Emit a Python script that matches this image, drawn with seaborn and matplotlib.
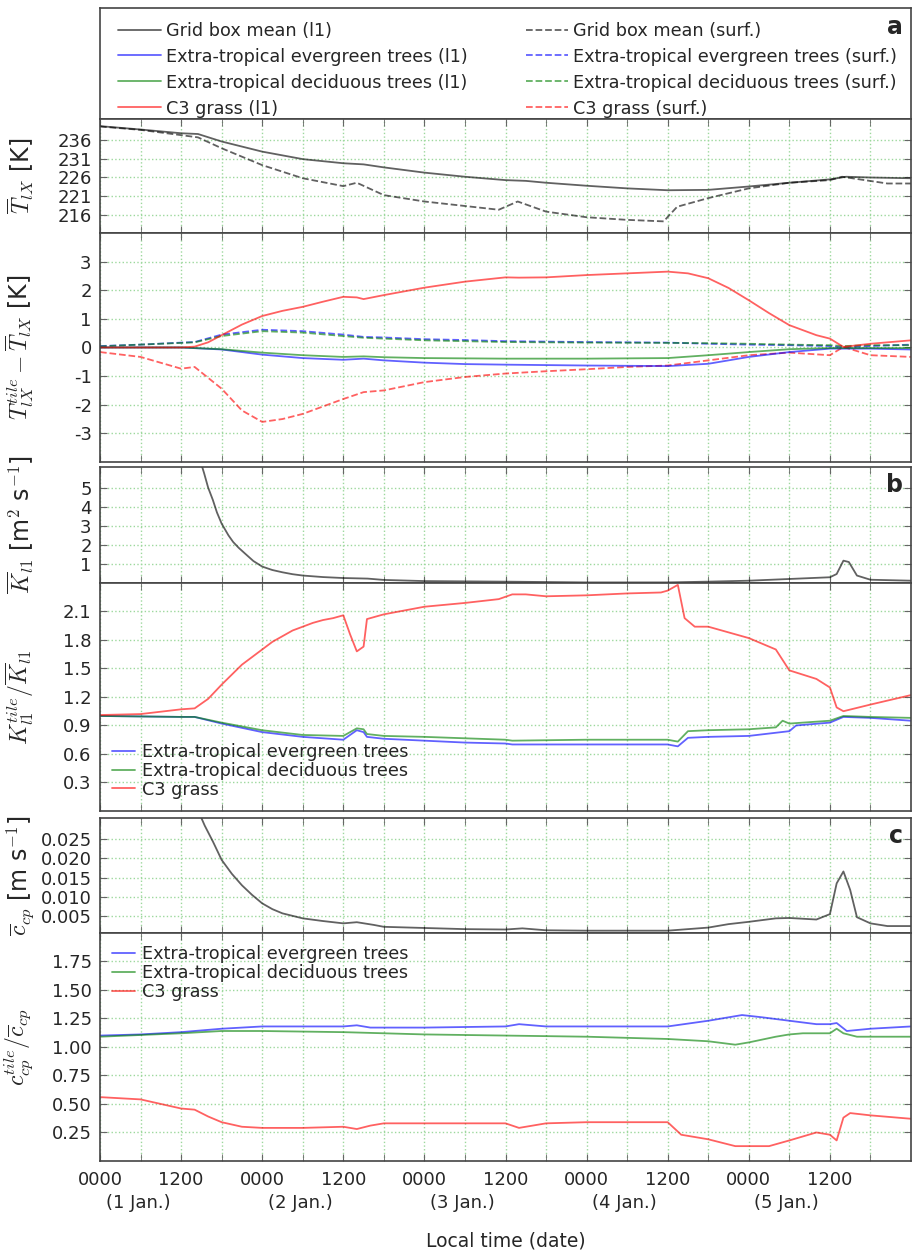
# Tile temperature / exchange coefficient diagnostics, 1-5 Jan.
import matplotlib
matplotlib.use('Agg')
import matplotlib.pyplot as plt
import matplotlib.transforms as mtransforms
from matplotlib.lines import Line2D
from matplotlib.ticker import FormatStrFormatter
import seaborn as sns

# ---- panel a: grid box mean temperature [K]
tbar_l1_h = [0, 6, 12, 14.5, 18, 24, 30, 36, 39, 42, 48, 54, 60, 63, 66, 72, 78, 84, 90, 96, 102, 108, 110.4, 114, 120]
tbar_l1 = [239.7, 238.8, 237.8, 237.6, 235.6, 232.9, 230.9, 229.8, 229.5, 228.7, 227.3, 226.2, 225.3, 225.1, 224.6,
           223.8, 223.1, 222.6, 222.7, 223.6, 224.6, 225.5, 226.2, 226.0, 225.8]
tbar_sf_h = [0, 6, 12, 14.5, 18, 24, 30, 36, 38, 42, 48, 54, 59, 61.8, 66, 72, 78, 83.4, 85.4, 90, 96, 102, 108, 109.8,
             116.5, 120]
tbar_sf = [239.6, 238.7, 237.3, 236.7, 233.8, 229.3, 225.8, 223.7, 224.6, 221.3, 219.6, 218.4, 217.4, 219.6, 216.9,
           215.4, 214.7, 214.3, 218.2, 220.5, 223.1, 224.6, 225.3, 226.2, 224.4, 224.4]

# ---- panel a: tile minus grid box mean [K]
dt_c3_l1_h = [0, 12, 14, 16, 18, 21, 24, 27, 30, 33, 36, 38, 39, 42, 48, 54, 60, 62, 66, 72, 78, 84, 87, 90, 93, 96,
              99, 102, 106, 108, 110, 114, 120]
dt_c3_l1 = [0, 0, 0.03, 0.18, 0.43, 0.8, 1.1, 1.28, 1.42, 1.6, 1.77, 1.75, 1.69, 1.83, 2.09, 2.3, 2.45, 2.44, 2.45,
            2.53, 2.59, 2.65, 2.59, 2.42, 2.08, 1.65, 1.2, 0.78, 0.43, 0.31, 0.02, 0.13, 0.25]
dt_c3_sf_h = [0, 6, 12, 14, 18, 21, 24, 27, 30, 36, 39, 42, 48, 54, 60, 66, 72, 78, 84, 90, 96, 102, 108, 110, 114, 120]
dt_c3_sf = [-0.16, -0.33, -0.74, -0.68, -1.44, -2.2, -2.6, -2.5, -2.32, -1.8, -1.56, -1.5, -1.21, -1.03, -0.91,
            -0.83, -0.76, -0.68, -0.63, -0.45, -0.27, -0.18, -0.27, 0.02, -0.27, -0.33]
dt_tree_l1_h = [0, 12, 18, 24, 30, 36, 39, 42, 48, 54, 60, 72, 84, 90, 96, 102, 108, 114, 120]
dt_ever_l1 = [0, 0, -0.07, -0.25, -0.37, -0.43, -0.39, -0.45, -0.53, -0.58, -0.6, -0.63, -0.65, -0.57, -0.33, -0.16,
              -0.04, -0.04, -0.07]
dt_deci_l1 = [0, 0, -0.06, -0.18, -0.27, -0.33, -0.31, -0.34, -0.37, -0.38, -0.39, -0.39, -0.37, -0.27, -0.16, -0.06,
              -0.02, -0.02, -0.02]
dt_tree_sf_h = [0, 6, 12, 14, 18, 24, 30, 36, 39, 42, 48, 54, 60, 72, 84, 90, 96, 102, 108, 110, 114, 120]
dt_ever_sf = [0.05, 0.1, 0.17, 0.19, 0.45, 0.62, 0.57, 0.45, 0.37, 0.35, 0.29, 0.26, 0.22, 0.19, 0.17, 0.13, 0.1,
              0.08, 0.05, 0.0, 0.05, 0.1]
dt_deci_sf = [0.04, 0.1, 0.16, 0.18, 0.4, 0.57, 0.52, 0.4, 0.34, 0.31, 0.25, 0.22, 0.19, 0.17, 0.16, 0.15, 0.13,
              0.1, 0.08, 0.05, 0.08, 0.08]

# ---- panel b: exchange coefficient
kbar_h = [14.5, 15.4, 16, 16.7, 17.3, 18, 19, 19.7, 20.5, 21.5, 22.7, 24, 25.5, 27, 28.5, 30, 33, 36, 39.6, 42, 48,
          60, 72, 84, 90, 96, 102, 108, 109, 110, 110.8, 112, 114, 120]
kbar = [6.8, 5.76, 5.0, 4.35, 3.7, 3.11, 2.5, 2.15, 1.85, 1.53, 1.15, 0.86, 0.68, 0.56, 0.46, 0.39, 0.31, 0.26, 0.23,
        0.16, 0.1, 0.07, 0.03, 0.03, 0.07, 0.12, 0.21, 0.3, 0.47, 1.17, 1.1, 0.39, 0.17, 0.12]
kr_c3_h = [0, 6, 12, 14, 16, 18, 21, 22.5, 24, 25.5, 27, 28.5, 30, 31.5, 33, 34.5, 36, 37, 38, 39, 39.5, 42, 48, 54,
           59, 61, 63, 66, 72, 78, 83, 84, 85.5, 86.5, 88, 90, 96, 100, 102, 106, 108, 109, 110, 114, 120]
kr_c3 = [1.01, 1.02, 1.07, 1.08, 1.18, 1.33, 1.54, 1.62, 1.70, 1.78, 1.84, 1.90, 1.94, 1.98, 2.01, 2.03, 2.06, 1.86,
         1.68, 1.73, 2.02, 2.07, 2.15, 2.19, 2.23, 2.28, 2.28, 2.26, 2.27, 2.29, 2.30, 2.32, 2.38, 2.03, 1.94, 1.94,
         1.82, 1.70, 1.48, 1.39, 1.30, 1.09, 1.05, 1.12, 1.22]
kr_ever_h = [0, 12, 14, 18, 24, 30, 36, 38, 39, 39.5, 42, 48, 54, 60, 61, 72, 84, 85.5, 87, 90, 96, 102, 103, 108,
             110, 114, 120]
kr_ever = [1.0, 0.99, 0.99, 0.92, 0.83, 0.78, 0.75, 0.85, 0.83, 0.78, 0.76, 0.74, 0.72, 0.71, 0.70, 0.70, 0.70,
           0.68, 0.77, 0.78, 0.79, 0.84, 0.90, 0.93, 0.99, 0.98, 0.95]
kr_deci_h = [0, 12, 14, 18, 24, 30, 36, 38, 39, 39.5, 42, 48, 60, 61, 72, 84, 85.5, 87, 90, 96, 100, 101, 102, 108,
             110, 114, 120]
kr_deci = [1.0, 0.99, 0.99, 0.93, 0.85, 0.80, 0.79, 0.87, 0.86, 0.81, 0.79, 0.78, 0.75, 0.74, 0.75, 0.75, 0.73,
           0.84, 0.85, 0.86, 0.88, 0.95, 0.92, 0.95, 1.0, 0.99, 0.98]

# ---- panel c: cp coefficient
cbar_h = [14.5, 15.5, 16.7, 18, 19.5, 21, 22.5, 24, 25.5, 27, 30, 33, 36, 38, 40.5, 42, 48, 54, 60, 62.5, 66, 72, 78,
          84, 90, 93, 96, 100, 102, 106, 108, 109, 110, 111, 112, 114, 116.5, 120]
cbar = [0.0325, 0.0285, 0.0244, 0.0196, 0.0160, 0.0130, 0.0105, 0.0083, 0.0068, 0.0057, 0.0044, 0.0037, 0.0031,
        0.0034, 0.0027, 0.0022, 0.0019, 0.0016, 0.0015, 0.0018, 0.0013, 0.0012, 0.0012, 0.0012, 0.0020, 0.0029,
        0.0035, 0.0044, 0.0045, 0.0041, 0.0055, 0.0135, 0.0166, 0.0118, 0.0047, 0.0031, 0.0024, 0.0024]
cr_ever_h = [0, 6, 12, 14, 18, 24, 30, 36, 38, 40, 48, 60, 62, 66, 72, 84, 90, 95, 98, 102, 106, 108, 109, 110.5,
             114, 120]
cr_ever = [1.10, 1.11, 1.13, 1.14, 1.16, 1.18, 1.18, 1.18, 1.19, 1.17, 1.17, 1.18, 1.20, 1.18, 1.18, 1.18, 1.23,
           1.28, 1.26, 1.23, 1.20, 1.20, 1.21, 1.14, 1.16, 1.18]
cr_deci_h = [0, 12, 18, 24, 36, 48, 60, 72, 84, 90, 94, 96, 100, 102, 104, 108, 109, 110, 112, 114, 120]
cr_deci = [1.09, 1.12, 1.14, 1.14, 1.13, 1.11, 1.10, 1.09, 1.07, 1.05, 1.02, 1.04, 1.09, 1.11, 1.12, 1.12, 1.16,
           1.12, 1.09, 1.09, 1.09]
cr_c3_h = [0, 6, 12, 14, 16, 18, 21, 24, 30, 36, 38, 40, 42, 48, 60, 62, 66, 72, 84, 86, 90, 94, 96, 99, 102, 106,
           108, 109, 110, 111, 114, 120]
cr_c3 = [0.56, 0.54, 0.46, 0.45, 0.39, 0.34, 0.30, 0.29, 0.29, 0.30, 0.28, 0.31, 0.33, 0.33, 0.33, 0.29, 0.33, 0.34,
         0.34, 0.23, 0.19, 0.13, 0.13, 0.13, 0.18, 0.25, 0.23, 0.18, 0.38, 0.42, 0.40, 0.37]

tile_names = ['Grid box mean', 'Extra-tropical evergreen trees', 'Extra-tropical deciduous trees', 'C3 grass']
day_labels = ['(1 Jan.)', '(2 Jan.)', '(3 Jan.)', '(4 Jan.)', '(5 Jan.)']
hour_labels = ['0000', '1200'] * 5

sns.set_style('ticks')
plt.rcParams['font.family'] = ['DejaVu Sans']
plt.rcParams['mathtext.fontset'] = 'cm'
plt.rcParams['font.size'] = 12.7

colors = ['k', 'b', 'g', 'r']
ALPHA = 0.62
LW = 1.3
GRIDC = '#9dd89d'


def line(ax, h, v, c, ls='-'):
    sns.lineplot(x=h, y=v, ax=ax, color=c, lw=LW, alpha=ALPHA, linestyle=ls)


def style(ax, ylim, yticks, fmt, ylabel, last=False):
    ax.set_xlim(0, 120)
    ax.set_ylim(*ylim)
    ax.set_yticks(yticks)
    ax.yaxis.set_major_formatter(FormatStrFormatter(fmt))
    ax.set_xticks(range(0, 120, 12))
    ax.set_xticks(range(6, 120, 12), minor=True)
    ax.grid(True, which='both', axis='x', color=GRIDC, ls=':', lw=1)
    ax.grid(True, which='major', axis='y', color=GRIDC, ls=':', lw=1)
    ax.tick_params(which='both', direction='in', top=True, right=True, length=5, color='#666', labelsize=13)
    ax.tick_params(axis='y', pad=6)
    for s in ax.spines.values():
        s.set_color('#444')
        s.set_linewidth(1.2)
    ax.set_ylabel(ylabel, fontsize=17)
    ax.yaxis.set_label_coords(-0.079, 0.5)
    if last:
        ax.set_xticklabels(hour_labels)
        ax.tick_params(axis='x', pad=7)
    else:
        ax.set_xticklabels([])
    ax.set_xlabel('')


fig = plt.figure(figsize=(9.13, 12.54), dpi=100)
L, W = 100 / 913, 811 / 913
ax_leg = fig.add_axes([L, 0.9051, W, 0.0885])
ax_t = fig.add_axes([L, 0.8142, W, 0.0909])
ax_dt = fig.add_axes([L, 0.6316, W, 0.1826])
ax_k = fig.add_axes([L, 0.5351, W, 0.0925])
ax_kr = fig.add_axes([L, 0.3533, W, 0.1818])
ax_c = fig.add_axes([L, 0.2560, W, 0.0917])
ax_cr = fig.add_axes([L, 0.0742, W, 0.1818])

# panel a
line(ax_t, tbar_l1_h, tbar_l1, 'k')
line(ax_t, tbar_sf_h, tbar_sf, 'k', '--')
style(ax_t, (211.2, 241.6), [216, 221, 226, 231, 236], '%d', r'$\overline{T}_{lX}$ [K]')

line(ax_dt, dt_tree_sf_h, dt_ever_sf, 'b', '--')
line(ax_dt, dt_tree_sf_h, dt_deci_sf, 'g', '--')
line(ax_dt, dt_c3_sf_h, dt_c3_sf, 'r', '--')
line(ax_dt, dt_tree_l1_h, dt_ever_l1, 'b')
line(ax_dt, dt_tree_l1_h, dt_deci_l1, 'g')
line(ax_dt, dt_c3_l1_h, dt_c3_l1, 'r')
style(ax_dt, (-4, 4), [-3, -2, -1, 0, 1, 2, 3], '%d',
      r'$T_{lX}^{tile}-\overline{T}_{lX}$ [K]')

# legend box for panel a
ax_leg.set_xticks([])
ax_leg.set_yticks([])
for s in ax_leg.spines.values():
    s.set_color('#444')
    s.set_linewidth(1.2)
handles, labels = [], []
for ls, suffix in [('-', '(l1)'), ('--', '(surf.)')]:
    for c, n in zip(colors, tile_names):
        handles.append(Line2D([], [], color=c, lw=LW, alpha=ALPHA, ls=ls))
        labels.append(f'{n} {suffix}')
ax_leg.legend(handles, labels, ncol=2, loc='center left', bbox_to_anchor=(0.003, 0.445), frameon=False,
              handlelength=2.4, handletextpad=0.3, columnspacing=3.3, labelspacing=0.45, fontsize=12.7)
ax_leg.text(0.99, 0.94, 'a', transform=ax_leg.transAxes, ha='right', va='top', fontsize=17, fontweight='bold')

# panel b
line(ax_k, kbar_h, kbar, 'k')
style(ax_k, (0, 6.08), [1, 2, 3, 4, 5], '%d', r'$\overline{K}_{l1}$ [m$^2$ s$^{-1}$]')
ax_k.text(0.99, 0.95, 'b', transform=ax_k.transAxes, ha='right', va='top', fontsize=17, fontweight='bold')

line(ax_kr, kr_ever_h, kr_ever, 'b')
line(ax_kr, kr_deci_h, kr_deci, 'g')
line(ax_kr, kr_c3_h, kr_c3, 'r')
style(ax_kr, (0, 2.4), [0.3, 0.6, 0.9, 1.2, 1.5, 1.8, 2.1], '%.1f', r'$K_{l1}^{tile}/\overline{K}_{l1}$')
h3 = [Line2D([], [], color=c, lw=LW, alpha=ALPHA) for c in colors[1:]]
ax_kr.legend(h3, tile_names[1:], loc='lower left', frameon=False, handlelength=1.3, handletextpad=0.4,
             labelspacing=0.05, borderaxespad=0.3, fontsize=12.7)

# panel c
line(ax_c, cbar_h, cbar, 'k')
style(ax_c, (0.0006, 0.0305), [0.005, 0.010, 0.015, 0.020, 0.025], '%.3f',
      r'$\overline{c}_{cp}$ [m s$^{-1}$]')
ax_c.text(0.99, 0.95, 'c', transform=ax_c.transAxes, ha='right', va='top', fontsize=17, fontweight='bold')

line(ax_cr, cr_ever_h, cr_ever, 'b')
line(ax_cr, cr_deci_h, cr_deci, 'g')
line(ax_cr, cr_c3_h, cr_c3, 'r')
style(ax_cr, (0, 2.0), [0.25, 0.5, 0.75, 1.0, 1.25, 1.5, 1.75], '%.2f', r'$c_{cp}^{tile}/\overline{c}_{cp}$',
      last=True)
ax_cr.legend(h3, tile_names[1:], loc='upper left', frameon=False, handlelength=1.3, handletextpad=0.4,
             labelspacing=0.05, borderaxespad=0.3, fontsize=12.7)

# date labels and x label
tr = mtransforms.blended_transform_factory(ax_cr.transData, fig.transFigure)
for i, d in enumerate(day_labels):
    ax_cr.text(5.6 + 24 * i, 1 - 1203 / 1254, d, transform=tr, ha='center', va='center', fontsize=13)
fig.text(L + W / 2, 1 - 1241 / 1254, 'Local time (date)', ha='center', va='center', fontsize=13.5)

fig.savefig('out.png', dpi=100)
